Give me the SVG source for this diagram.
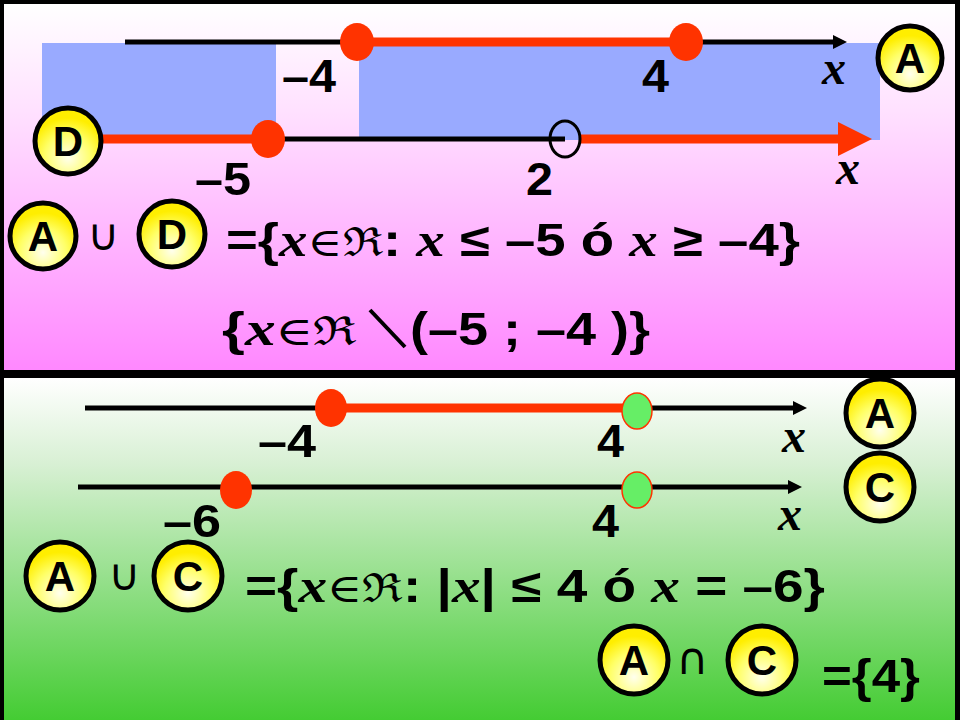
<svg xmlns="http://www.w3.org/2000/svg" width="960" height="720" viewBox="0 0 960 720">
<defs>
<linearGradient id="pk" x1="0" y1="0" x2="0" y2="1"><stop offset="0" stop-color="#ffffff"/><stop offset="0.3" stop-color="#ffe0ff"/><stop offset="1" stop-color="#ff88ff"/></linearGradient>
<linearGradient id="gr" x1="0" y1="0" x2="0" y2="1"><stop offset="0" stop-color="#ffffff"/><stop offset="0.25" stop-color="#d8f0d4"/><stop offset="1" stop-color="#44cc33"/></linearGradient>
<radialGradient id="yb" cx="0.5" cy="0.75" r="0.6"><stop offset="0" stop-color="#ffffee"/><stop offset="0.6" stop-color="#ffff66"/><stop offset="1" stop-color="#ffee00"/></radialGradient>
<marker id="ar" markerWidth="14" markerHeight="14" refX="2" refY="7" orient="auto" markerUnits="userSpaceOnUse"><path d="M0,0 L14,7 L0,14 Z" fill="#000"/></marker>
<style>
.ax{stroke:#000;stroke-width:5;fill:none}
.rd{stroke:#ff3300;stroke-width:9;fill:none}
.dot{fill:#ff3300}
.gd{fill:#66ee66;stroke:#ff3300;stroke-width:1.5}
.n{font-family:"Liberation Sans",Arial,sans-serif;font-weight:bold;font-size:46px;fill:#000}
.m{font-family:"Liberation Serif","Times New Roman",serif;font-weight:bold;font-style:italic;font-size:48px;fill:#000}
.s{font-family:"DejaVu Serif","Liberation Serif",serif;font-weight:normal;font-style:normal;font-size:40px;fill:#000}
.f{font-family:"Liberation Sans",Arial,sans-serif;font-weight:bold;font-size:46px;fill:#000}
.bc{fill:url(#yb);stroke:#000;stroke-width:5}
.bt{font-family:"Liberation Sans",Arial,sans-serif;font-weight:bold;font-size:42px;fill:#000;text-anchor:middle}
.op{font-family:"DejaVu Sans",sans-serif;font-size:44px;fill:#000;text-anchor:middle}
</style>
</defs>
<rect width="960" height="720" fill="#000"/>
<rect x="4" y="4" width="951" height="366" fill="url(#pk)"/>
<rect x="4" y="378" width="951" height="342" fill="url(#gr)"/>
<rect x="42" y="43" width="234" height="96" fill="#99aaff"/>
<rect x="359" y="43" width="521" height="97" fill="#99aaff"/>
<g id="connectors">
<line class="ax" x1="125" y1="42" x2="835" y2="42" marker-end="url(#ar)"/>
<line class="rd" x1="357" y1="42" x2="686" y2="42"/>
<line class="ax" x1="268" y1="139" x2="565" y2="139"/>
<line class="rd" x1="100" y1="139" x2="268" y2="139"/>
<line class="rd" x1="580" y1="139" x2="845" y2="139"/>
<path d="M838,122 L872,139 L838,156 Z" fill="#ff3300"/>
<line class="ax" x1="85" y1="408" x2="795" y2="408" marker-end="url(#ar)"/>
<line class="rd" x1="331" y1="408" x2="637" y2="408"/>
<line class="ax" x1="78" y1="487" x2="790" y2="487" marker-end="url(#ar)"/>
</g>
<g id="points">
<ellipse class="dot" cx="357" cy="42" rx="17" ry="19"/>
<ellipse class="dot" cx="686" cy="42" rx="17" ry="19"/>
<ellipse class="dot" cx="268" cy="139" rx="17" ry="19"/>
<ellipse cx="565" cy="139" rx="15" ry="18" fill="none" stroke="#000" stroke-width="3"/>
<ellipse class="dot" cx="331" cy="408" rx="16" ry="19"/>
<ellipse class="gd" cx="637" cy="411" rx="15" ry="18"/>
<ellipse class="dot" cx="236" cy="490" rx="16" ry="19"/>
<ellipse class="gd" cx="637" cy="490" rx="15" ry="18"/>
</g>
<g id="labels">
<text class="n" x="282" y="92" textLength="54" lengthAdjust="spacingAndGlyphs">–4</text>
<text class="n" x="642" y="92" textLength="27" lengthAdjust="spacingAndGlyphs">4</text>
<text class="m" x="822" y="84">x</text>
<text class="n" x="195" y="195" textLength="56" lengthAdjust="spacingAndGlyphs">–5</text>
<text class="n" x="526" y="195" textLength="27" lengthAdjust="spacingAndGlyphs">2</text>
<text class="m" x="836" y="184">x</text>
<text class="n" x="258" y="457" textLength="58" lengthAdjust="spacingAndGlyphs">–4</text>
<text class="n" x="597" y="457" textLength="27" lengthAdjust="spacingAndGlyphs">4</text>
<text class="m" x="782" y="452">x</text>
<text class="n" x="163" y="537" textLength="58" lengthAdjust="spacingAndGlyphs">–6</text>
<text class="n" x="592" y="537" textLength="27" lengthAdjust="spacingAndGlyphs">4</text>
<text class="m" x="778" y="530">x</text>
</g>
<g id="badgeA1"><circle class="bc" cx="910" cy="58" r="32"/><text class="bt" x="910" y="73">A</text></g>
<g id="badgeD1"><circle class="bc" cx="68" cy="141" r="33"/><text class="bt" x="68" y="156">D</text></g>
<g id="formula1">
<circle class="bc" cx="43" cy="236" r="33"/><text class="bt" x="43" y="251">A</text>
<text class="op" x="103" y="250">∪</text>
<circle class="bc" cx="172" cy="234" r="33"/><text class="bt" x="172" y="249">D</text>
<text x="226" y="256" textLength="574" lengthAdjust="spacingAndGlyphs"><tspan class="f">={</tspan><tspan class="m">x</tspan><tspan class="s">∈ℜ</tspan><tspan class="f">: </tspan><tspan class="m">x</tspan><tspan class="f"> ≤ –5 ó </tspan><tspan class="m">x</tspan><tspan class="f"> ≥ –4}</tspan></text>
<text x="222" y="345" textLength="135" lengthAdjust="spacingAndGlyphs"><tspan class="f">{</tspan><tspan class="m">x</tspan><tspan class="s">∈ℜ</tspan></text>
<line x1="370" y1="310" x2="405" y2="347" stroke="#000" stroke-width="4"/>
<text class="f" x="410" y="345" textLength="240" lengthAdjust="spacingAndGlyphs">(–5 ; –4 )}</text>
</g>
<g id="badgeA2"><circle class="bc" cx="880" cy="413" r="34"/><text class="bt" x="880" y="428">A</text></g>
<g id="badgeC2"><circle class="bc" cx="880" cy="487" r="34"/><text class="bt" x="880" y="502">C</text></g>
<g id="formula2">
<circle class="bc" cx="60" cy="576" r="34"/><text class="bt" x="60" y="591">A</text>
<text class="op" x="124" y="590">∪</text>
<circle class="bc" cx="188" cy="576" r="34"/><text class="bt" x="188" y="591">C</text>
<text x="245" y="602" textLength="580" lengthAdjust="spacingAndGlyphs"><tspan class="f">={</tspan><tspan class="m">x</tspan><tspan class="s">∈ℜ</tspan><tspan class="f">: |</tspan><tspan class="m">x</tspan><tspan class="f">| ≤ 4 ó </tspan><tspan class="m">x</tspan><tspan class="f"> = –6}</tspan></text>
</g>
<g id="formula3">
<circle class="bc" cx="634" cy="660" r="34"/><text class="bt" x="634" y="675">A</text>
<text class="op" x="692" y="674">∩</text>
<circle class="bc" cx="762" cy="660" r="34"/><text class="bt" x="762" y="675">C</text>
<text class="f" x="822" y="692" textLength="98" lengthAdjust="spacingAndGlyphs">={4}</text>
</g>
</svg>
